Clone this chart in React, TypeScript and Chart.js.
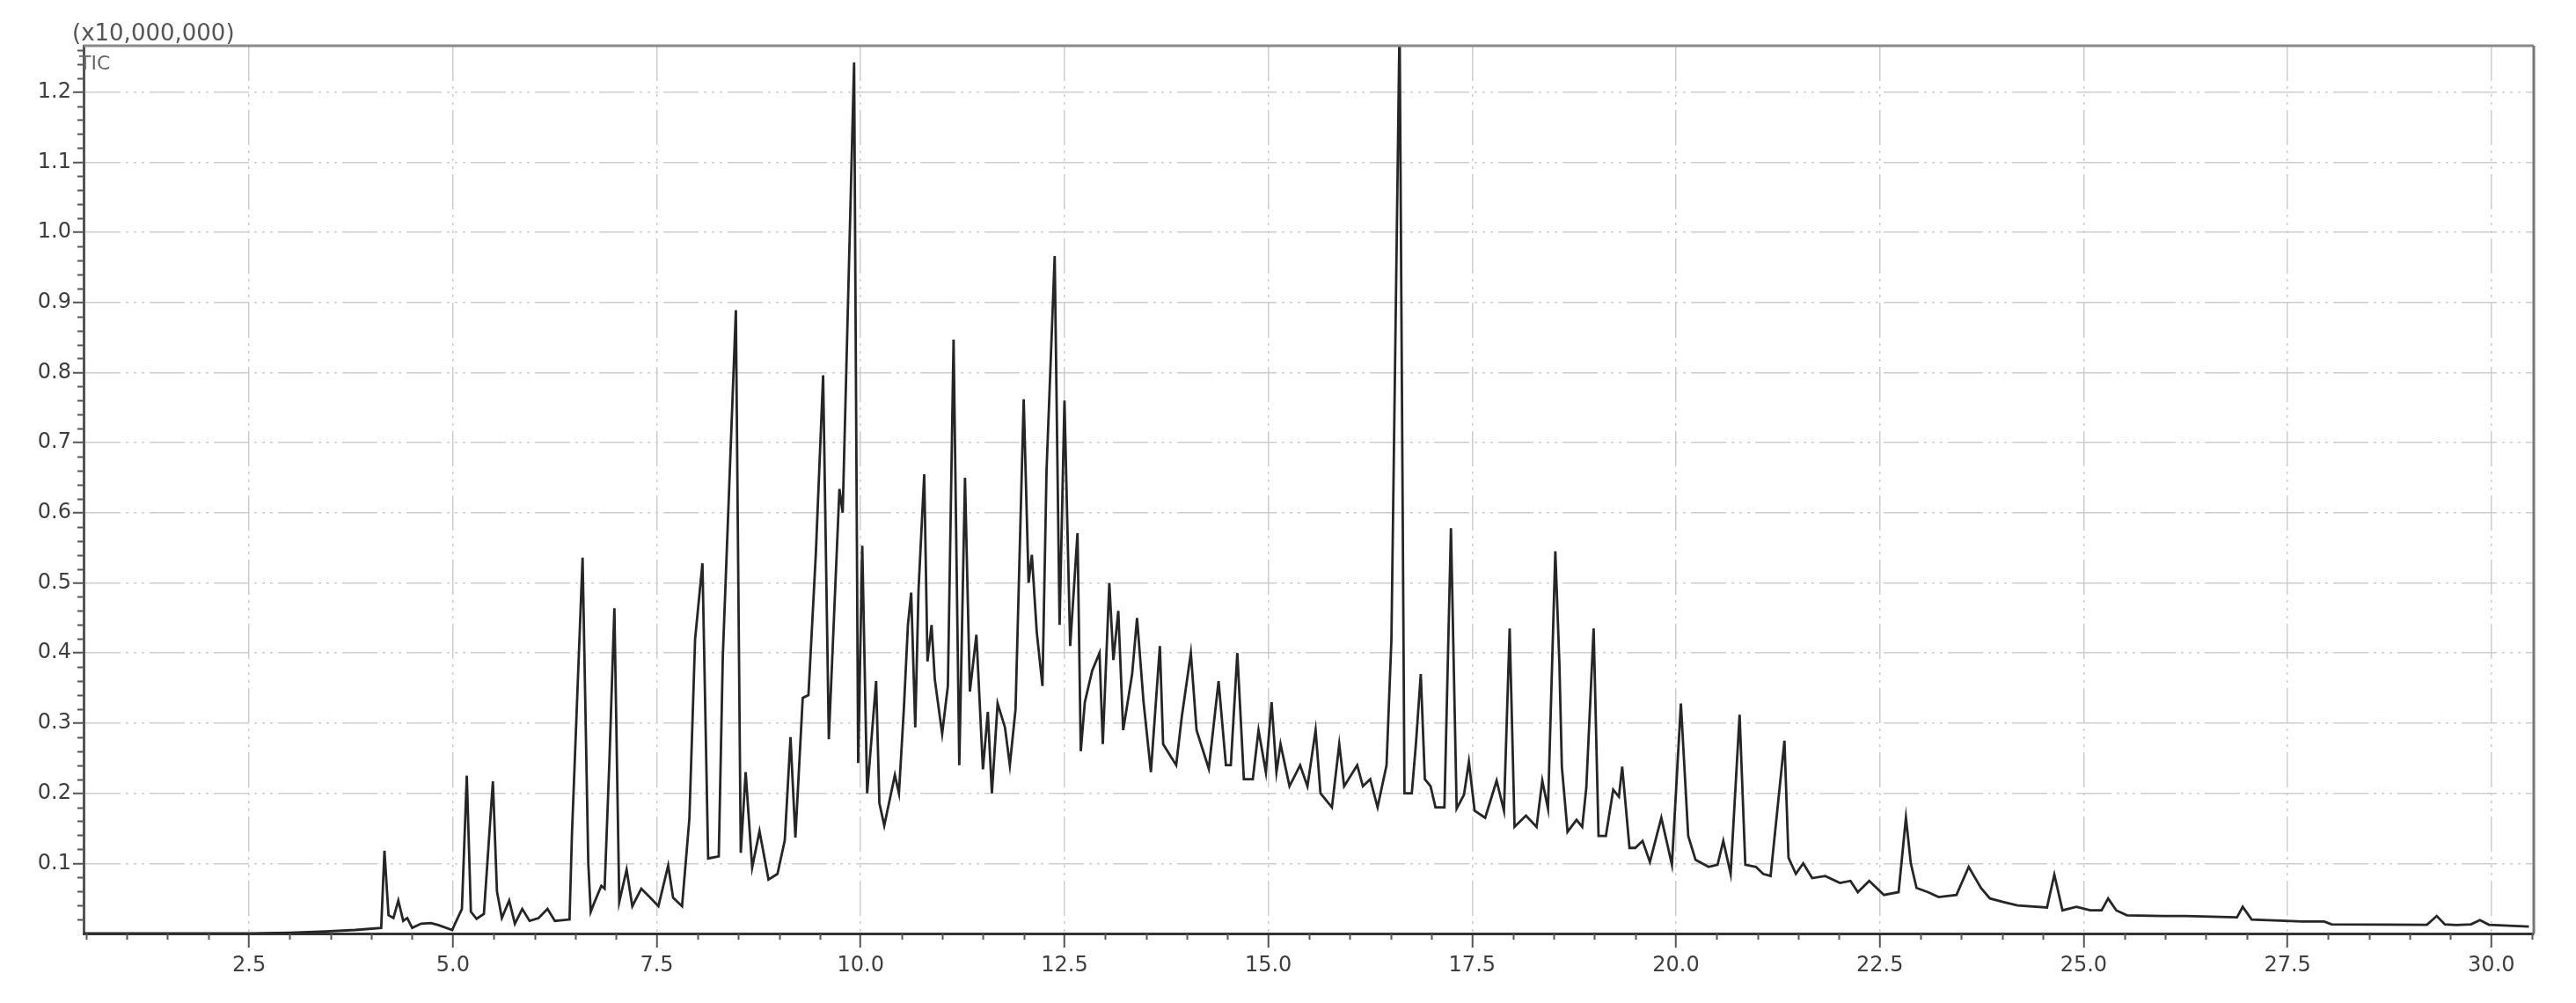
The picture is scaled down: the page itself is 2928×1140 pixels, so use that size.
import React, { useEffect, useRef } from "react";
import { Chart, registerables } from "chart.js";

Chart.register(...registerables);

// Retention time (min)
const retentionTime = [
  0.47, 1.5, 2.5, 3.0, 3.44, 3.8, 4.12, 4.16, 4.21, 4.27, 4.33, 4.39, 4.44, 4.5, 4.61, 4.73, 4.82, 4.99,
  5.11, 5.17, 5.22, 5.29, 5.38, 5.49, 5.54, 5.6, 5.69, 5.76, 5.85, 5.94, 6.05, 6.16, 6.25, 6.43, 6.46,
  6.59, 6.66, 6.69, 6.73, 6.82, 6.86, 6.92, 6.98, 7.04, 7.13, 7.2, 7.31, 7.42, 7.52, 7.64, 7.7, 7.81,
  7.9, 7.97, 8.06, 8.13, 8.26, 8.31, 8.47, 8.53, 8.59, 8.67, 8.76, 8.87, 8.98, 9.07, 9.14, 9.2, 9.29,
  9.36, 9.45, 9.54, 9.61, 9.74, 9.78, 9.92, 9.97, 10.02, 10.08, 10.19, 10.23, 10.29, 10.42, 10.47,
  10.53, 10.58, 10.62, 10.67, 10.71, 10.78, 10.82, 10.87, 10.91, 11.0, 11.07, 11.14, 11.21, 11.28,
  11.34, 11.42, 11.5, 11.56, 11.61, 11.68, 11.77, 11.83, 11.9, 12.0, 12.06, 12.1, 12.16, 12.23, 12.28,
  12.38, 12.44, 12.5, 12.57, 12.66, 12.7, 12.75, 12.84, 12.93, 12.97, 13.05, 13.1, 13.16, 13.22, 13.33,
  13.39, 13.47, 13.56, 13.67, 13.71, 13.87, 13.94, 14.05, 14.12, 14.27, 14.39, 14.48, 14.54, 14.62,
  14.7, 14.81, 14.88, 14.97, 15.04, 15.1, 15.15, 15.26, 15.39, 15.48, 15.58, 15.64, 15.78, 15.87,
  15.93, 16.09, 16.16, 16.25, 16.34, 16.45, 16.51, 16.61, 16.67, 16.76, 16.81, 16.87, 16.92, 16.99,
  17.05, 17.16, 17.24, 17.31, 17.4, 17.46, 17.53, 17.66, 17.8, 17.89, 17.96, 18.02, 18.16, 18.29,
  18.36, 18.43, 18.52, 18.57, 18.6, 18.67, 18.78, 18.85, 18.9, 18.99, 19.05, 19.14, 19.23, 19.3,
  19.34, 19.43, 19.5, 19.59, 19.68, 19.82, 19.95, 20.06, 20.15, 20.24, 20.4, 20.51, 20.58, 20.67,
  20.78, 20.85, 20.98, 21.07, 21.16, 21.33, 21.38, 21.47, 21.56, 21.67, 21.83, 22.01, 22.14, 22.23,
  22.37, 22.55, 22.73, 22.82, 22.88, 22.95, 23.09, 23.22, 23.44, 23.59, 23.74, 23.85, 24.01, 24.19,
  24.55, 24.64, 24.74, 24.91, 25.08, 25.22, 25.3, 25.4, 25.53, 25.98, 26.25, 26.88, 26.95, 27.06,
  27.68, 27.95, 28.04, 29.21, 29.33, 29.43, 29.57, 29.75, 29.86, 29.97, 30.46,
];

// TIC intensity (x10,000,000)
const ticIntensity = [
  0.0, 0.0, 0.0, 0.001, 0.003, 0.005, 0.008, 0.118, 0.026, 0.022, 0.047, 0.018, 0.022, 0.008, 0.014, 0.015, 0.012, 0.005,
  0.035, 0.225, 0.031, 0.021, 0.028, 0.217, 0.06, 0.022, 0.047, 0.014, 0.035, 0.018, 0.022, 0.035, 0.018, 0.02, 0.143,
  0.536, 0.1, 0.031, 0.043, 0.068, 0.064, 0.25, 0.464, 0.045, 0.091, 0.039, 0.064, 0.051, 0.039, 0.097, 0.051, 0.039,
  0.164, 0.42, 0.528, 0.107, 0.11, 0.396, 0.889, 0.115, 0.23, 0.094, 0.146, 0.077, 0.085, 0.133, 0.28, 0.137, 0.336,
  0.34, 0.54, 0.796, 0.277, 0.634, 0.6, 1.242, 0.243, 0.553, 0.2, 0.36, 0.186, 0.154, 0.226, 0.2,
  0.32, 0.44, 0.486, 0.294, 0.49, 0.655, 0.388, 0.44, 0.362, 0.285, 0.353, 0.847, 0.24, 0.65,
  0.345, 0.426, 0.234, 0.316, 0.2, 0.328, 0.294, 0.24, 0.32, 0.762, 0.5, 0.54, 0.43, 0.353, 0.66,
  0.966, 0.44, 0.76, 0.41, 0.571, 0.26, 0.33, 0.375, 0.4, 0.27, 0.5, 0.39, 0.46, 0.29, 0.37,
  0.45, 0.33, 0.23, 0.41, 0.27, 0.24, 0.31, 0.4, 0.29, 0.235, 0.36, 0.24, 0.24, 0.4,
  0.22, 0.22, 0.29, 0.23, 0.33, 0.23, 0.27, 0.21, 0.24, 0.21, 0.29, 0.2, 0.18, 0.27,
  0.21, 0.24, 0.21, 0.22, 0.18, 0.24, 0.42, 1.3, 0.2, 0.2, 0.27, 0.37, 0.22, 0.21,
  0.18, 0.18, 0.578, 0.178, 0.198, 0.245, 0.175, 0.165, 0.218, 0.175, 0.435, 0.152, 0.168, 0.152,
  0.218, 0.178, 0.545, 0.385, 0.238, 0.145, 0.162, 0.152, 0.208, 0.435, 0.139, 0.139, 0.205, 0.195,
  0.238, 0.122, 0.122, 0.132, 0.102, 0.165, 0.098, 0.328, 0.139, 0.105, 0.095, 0.098, 0.132, 0.085,
  0.312, 0.098, 0.095, 0.085, 0.082, 0.275, 0.108, 0.085, 0.1, 0.079, 0.082, 0.072, 0.075, 0.059,
  0.075, 0.055, 0.059, 0.165, 0.1, 0.065, 0.059, 0.052, 0.055, 0.095, 0.065, 0.05, 0.045, 0.04,
  0.037, 0.084, 0.033, 0.038, 0.033, 0.033, 0.05, 0.033, 0.026, 0.025, 0.025, 0.023, 0.038, 0.02,
  0.017, 0.017, 0.013, 0.0125, 0.025, 0.013, 0.012, 0.013, 0.019, 0.0125, 0.01,
];

const xTickValues = [2.5, 5.0, 7.5, 10.0, 12.5, 15.0, 17.5, 20.0, 22.5, 25.0, 27.5, 30.0];
const yTickValues = [0.1, 0.2, 0.3, 0.4, 0.5, 0.6, 0.7, 0.8, 0.9, 1.0, 1.1, 1.2];
const xMinorStep = 0.5;
const yMinorStep = 0.02;
const xRange = [0.47, 30.52];
const yRange = [0, 1.266];
const unitLabel = "(x10,000,000)";
const traceLabel = "TIC";

export default function App() {
  const canvasRef = useRef<HTMLCanvasElement | null>(null);

  useEffect(() => {
    const canvas = canvasRef.current;
    if (!canvas) return;

    const framePlugin = {
      id: "frameAndMinorTicks",
      afterDraw(chart: any) {
        const { ctx, chartArea } = chart;
        const xs = chart.scales.x;
        const ys = chart.scales.y;
        ctx.save();
        // minor ticks on x
        ctx.strokeStyle = "#555";
        ctx.lineWidth = 2;
        ctx.beginPath();
        const nx = Math.round(xRange[1] / xMinorStep);
        for (let k = 1; k <= nx; k++) {
          const v = k * xMinorStep;
          if (k % 5 === 0) continue;
          if (v < xRange[0] || v > xRange[1]) continue;
          const px = Math.round(xs.getPixelForValue(v)) + 0.5;
          ctx.moveTo(px, chartArea.bottom);
          ctx.lineTo(px, chartArea.bottom + 7);
        }
        ctx.stroke();
        // minor ticks on y
        ctx.beginPath();
        const ny = Math.floor(yRange[1] / yMinorStep + 1e-6);
        for (let k = 1; k <= ny; k++) {
          if (k % 5 === 0) continue;
          const v = k * yMinorStep;
          const py = Math.round(ys.getPixelForValue(v)) + 0.5;
          ctx.moveTo(chartArea.left - 7, py);
          ctx.lineTo(chartArea.left, py);
        }
        ctx.stroke();
        // top and right frame
        ctx.lineWidth = 3;
        ctx.strokeStyle = "#8a8a8a";
        ctx.beginPath();
        ctx.moveTo(chartArea.left, chartArea.top);
        ctx.lineTo(chartArea.right, chartArea.top);
        ctx.stroke();
        ctx.strokeStyle = "#777";
        ctx.beginPath();
        ctx.moveTo(chartArea.right, chartArea.top);
        ctx.lineTo(chartArea.right, chartArea.bottom);
        ctx.stroke();
        ctx.restore();
      },
    };

    const gridDash = [40, 6, 3, 6, 3, 6, 3, 6];

    const chart = new Chart(canvas, {
      type: "line",
      data: {
        datasets: [
          {
            label: traceLabel,
            data: retentionTime.map((t, i) => ({ x: t, y: ticIntensity[i] })),
            borderColor: "#262626",
            borderWidth: 2.8,
            pointRadius: 0,
            tension: 0,
            fill: false,
          },
        ],
      },
      options: {
        animation: false,
        responsive: false,
        devicePixelRatio: 1,
        layout: { padding: { top: 52, right: 48, left: 0, bottom: 0 } },
        plugins: { legend: { display: false }, tooltip: { enabled: false } },
        scales: {
          x: {
            type: "linear",
            min: xRange[0],
            max: xRange[1],
            afterBuildTicks: (s: any) => {
              s.ticks = xTickValues.map((v) => ({ value: v }));
            },
            afterFit: (s: any) => {
              s.height = 79;
            },
            ticks: {
              autoSkip: false,
              maxRotation: 0,
              padding: 6,
              color: "#3e3e3e",
              font: { family: "DejaVu Sans", size: 24 },
              callback: (v: any) => Number(v).toFixed(1),
            },
            grid: {
              color: "#cdcdcd",
              lineWidth: 1.5,
              tickLength: 16,
              tickColor: "#555",
              tickWidth: 2,
            },
            border: { color: "#333", width: 3, dash: gridDash },
          },
          y: {
            type: "linear",
            min: yRange[0],
            max: yRange[1],
            afterBuildTicks: (s: any) => {
              s.ticks = yTickValues.map((v) => ({ value: v }));
            },
            afterFit: (s: any) => {
              s.width = 95;
            },
            ticks: {
              padding: 2,
              color: "#3e3e3e",
              font: { family: "DejaVu Sans", size: 24 },
              callback: (v: any) => Number(v).toFixed(1),
            },
            grid: {
              color: "#cdcdcd",
              lineWidth: 1.5,
              tickLength: 12,
              tickColor: "#555",
              tickWidth: 2,
            },
            border: { color: "#555", width: 3, dash: gridDash },
          },
        },
      },
      plugins: [framePlugin],
    } as any);

    return () => chart.destroy();
  }, []);

  return (
    <div style={{ position: "absolute", left: 0, top: 0, width: 2928, height: 1140, background: "#fff", overflow: "hidden" }}>
      <canvas ref={canvasRef} width={2928} height={1140} style={{ display: "block", width: 2928, height: 1140 }} />
      <div
        style={{
          position: "absolute",
          left: 82,
          top: 22,
          fontFamily: "DejaVu Sans",
          fontSize: 26,
          lineHeight: "30px",
          color: "#555",
          whiteSpace: "nowrap",
        }}
      >
        {unitLabel}
      </div>
      <div
        style={{
          position: "absolute",
          left: 90,
          top: 59,
          fontFamily: "DejaVu Sans",
          fontSize: 22,
          lineHeight: "26px",
          color: "#666",
          whiteSpace: "nowrap",
        }}
      >
        {traceLabel}
      </div>
    </div>
  );
}
